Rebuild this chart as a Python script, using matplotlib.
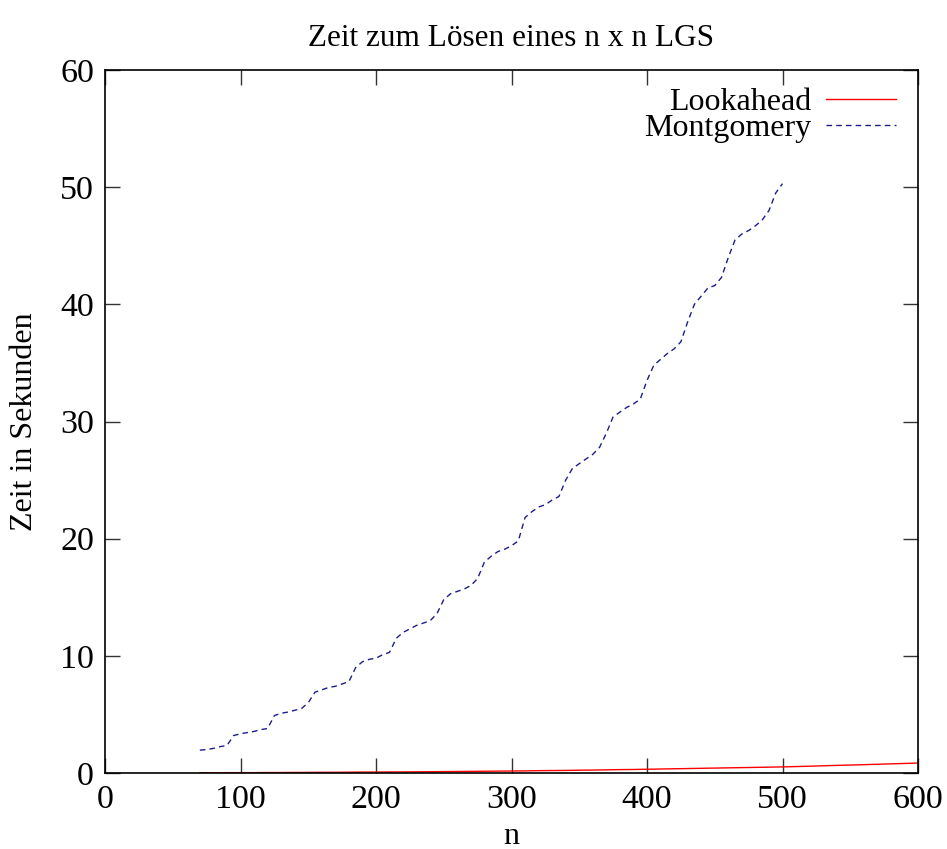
import matplotlib
matplotlib.use("Agg")
import matplotlib.pyplot as plt
import numpy as np

# Lookahead timings (n, seconds)
look_n = [70, 80, 90, 100, 110, 120, 130, 140, 150, 160, 170, 180, 190, 200, 210, 220, 230, 240,
          250, 260, 270, 280, 290, 300, 310, 320, 330, 340, 350, 360, 370, 380, 390, 400, 410,
          420, 430, 440, 450, 460, 470, 480, 490, 500, 520, 540, 560, 580, 600]
look_t = [0.02, 0.02, 0.03, 0.03, 0.03, 0.04, 0.04, 0.05, 0.05, 0.06, 0.06, 0.07, 0.08, 0.08,
          0.09, 0.09, 0.10, 0.11, 0.12, 0.13, 0.14, 0.15, 0.16, 0.17, 0.18, 0.20, 0.21, 0.22,
          0.24, 0.25, 0.27, 0.29, 0.30, 0.32, 0.34, 0.36, 0.38, 0.40, 0.42, 0.44, 0.46, 0.48,
          0.50, 0.52, 0.58, 0.65, 0.71, 0.78, 0.85]

# Montgomery timings (n, seconds)
mont_n = list(range(70, 501, 5))
mont_t = [1.95, 2.0, 2.1, 2.25, 2.35, 3.2, 3.35, 3.45, 3.55, 3.7, 3.8, 4.9, 5.1, 5.2, 5.35, 5.5,
          6.0, 6.9, 7.1, 7.3, 7.4, 7.6, 7.8, 9.0, 9.5, 9.7, 9.8, 10.1, 10.3, 11.5, 12.0, 12.3,
          12.6, 12.8, 13.0, 13.6, 14.8, 15.3, 15.5, 15.7, 16.0, 16.6, 18.0, 18.5, 18.9, 19.1,
          19.4, 19.8, 21.8, 22.3, 22.7, 22.9, 23.3, 23.6, 25.0, 26.0, 26.4, 26.8, 27.2, 27.8,
          29.0, 30.4, 30.8, 31.2, 31.5, 31.9, 33.5, 34.8, 35.3, 35.8, 36.2, 36.8, 38.5, 40.0,
          40.7, 41.4, 41.6, 42.3, 44.0, 45.5, 46.0, 46.3, 46.7, 47.2, 48.0, 49.5, 50.3]

x_ticks = [0, 100, 200, 300, 400, 500, 600]
y_ticks = [0, 10, 20, 30, 40, 50, 60]

plt.rcParams['font.family'] = ['Liberation Serif', 'DejaVu Serif']

fig = plt.figure(figsize=(9.47, 8.49), dpi=100)
ax = fig.add_axes([105/947, 76/849, (918-105)/947, (773-70)/849])

ax.plot(look_n, look_t, color='#ff0000', lw=1.0, label='Lookahead')
ax.plot(mont_n, mont_t, color='#1c1c8c', lw=1.0, linestyle=(0, (4, 3)), label='Montgomery')

ax.set_xlim(0, 600)
ax.set_ylim(0, 60)
ax.set_xticks(x_ticks)
ax.set_yticks(y_ticks)
ax.tick_params(direction='in', length=11, width=1, top=True, right=True,
               labelsize=24.5, pad=8, color='#333333')
for s in ax.spines.values():
    s.set_linewidth(1.2)

ax.set_title('Zeit zum Lösen eines n x n LGS', fontsize=22.5, pad=17)
ax.set_xlabel('n', fontsize=23, labelpad=5)
ax.set_ylabel('Zeit in Sekunden', fontsize=23, labelpad=15)

leg = ax.legend(loc='upper right', frameon=False, markerfirst=False, fontsize=23,
                handlelength=2.2, handletextpad=0.45, labelspacing=-0.1,
                borderaxespad=0.4, borderpad=0.15,
                bbox_to_anchor=(0.995, 1.0))
for t in leg.get_texts():
    t.set_ha('right')

fig.savefig('out.png', dpi=100)
